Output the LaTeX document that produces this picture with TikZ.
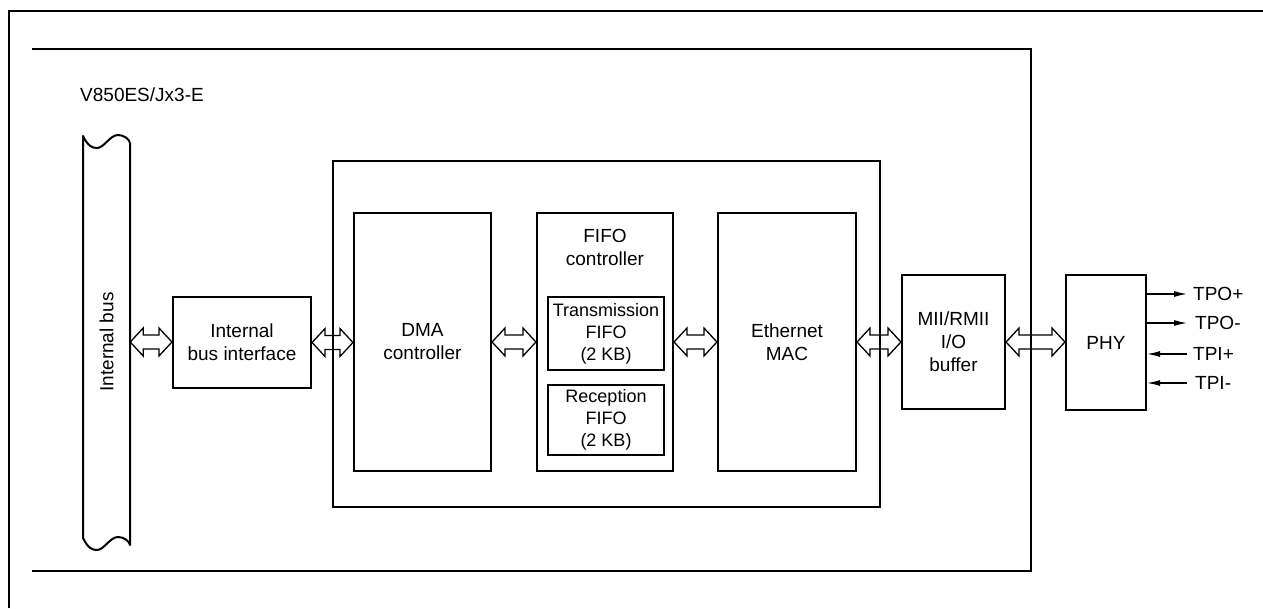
\documentclass[tikz,border=0pt]{standalone}
\usepackage{fontspec}
\setmainfont{Liberation Sans}
\usetikzlibrary{calc,arrows.meta}
\tikzset{
  box/.style={draw, line width=2.1pt, inner sep=0pt, align=center},
  subbox/.style={draw, line width=1.8pt, inner sep=0pt, align=center, font=\fontsize{18}{22}\selectfont},
  harrow/.style={draw, line width=1.3pt, line join=miter},
  sig/.style={line width=1.2pt, -{Latex[length=13pt,width=6pt]}},
  lbl/.style={inner sep=0pt, align=center},
  frame/.style={line width=2.5pt}
}
\newcommand\hollowarrow[2]{%
  \draw[harrow] let \p1=(#1), \p2=(#2) in
    (\x1,\y1) -- (\x1+13pt,\y1+14pt) -- (\x1+13pt,\y1+7pt) -- (\x2-13pt,\y1+7pt)
    -- (\x2-13pt,\y1+14pt) -- (\x2,\y1) -- (\x2-13pt,\y1-14pt) -- (\x2-13pt,\y1-7pt)
    -- (\x1+13pt,\y1-7pt) -- (\x1+13pt,\y1-14pt) -- cycle;}
\begin{document}
\begin{tikzpicture}[x=1pt,y=-1pt,font=\fontsize{19}{23}\selectfont]
\useasboundingbox (0,0) rectangle (1263,608);
% outer frame (right and bottom edges off the page)
\draw[line width=2.2pt] (9,608) -- (9,11) -- (1263,11);
% chip frame
\draw[frame] (32,49) -- (1031,49) -- (1031,571) -- (32,571);
\node[lbl, anchor=base west] (chip) at (80,101) {V850ES/Jx3-E};
% internal bus
\node[lbl, minimum width=47pt, minimum height=409pt] (bus) at (106.5,342) {};
\node[lbl, rotate=90] (buslbl) at (bus.center) {Internal bus};
\draw[line width=2pt, line join=round]
  (83,136) .. controls (88,146) and (92,148) .. (97,148)
  .. controls (104,148) and (110,135) .. (118,135)
  .. controls (124,135) and (129,139) .. (130,143)
  -- (130,545)
  .. controls (129,541) and (124,537) .. (118,537)
  .. controls (110,537) and (104,550) .. (97,550)
  .. controls (92,550) and (88,548) .. (83,538) -- cycle;
% boxes
\node[box, minimum width=138pt, minimum height=91pt] (ibi) at (242,342.5) {Internal\\bus interface};
\node[box, minimum width=547pt, minimum height=346pt] (grp) at (606.5,334) {};
\node[box, minimum width=137pt, minimum height=258pt] (dma) at (422.5,342) {DMA\\controller};
\node[box, minimum width=136pt, minimum height=258pt] (fifo) at (605,342) {};
\node[lbl] (fifolbl) at (605,247) {FIFO\\controller};
\node[subbox, minimum width=116pt, minimum height=73pt] (tx) at (606,333.5) {Transmission\\FIFO\\(2 KB)};
\node[subbox, minimum width=116pt, minimum height=70pt] (rx) at (606,420) {Reception\\FIFO\\(2 KB)};
\node[box, minimum width=138pt, minimum height=258pt] (mac) at (787,342) {Ethernet\\MAC};
\node[box, minimum width=103pt, minimum height=134pt] (mii) at (953.5,342) {MII/RMII\\I/O\\buffer};
\node[box, minimum width=80pt, minimum height=135pt] (phy) at (1106,342.5) {PHY};
% hollow double arrows
\hollowarrow{bus.east}{ibi.west}
\hollowarrow{ibi.east}{dma.west}
\hollowarrow{dma.east}{fifo.west}
\hollowarrow{fifo.east}{mac.west}
\hollowarrow{mac.east}{mii.west}
\hollowarrow{mii.east}{phy.west}
% PHY signals
\coordinate (o1) at (1187,294);
\coordinate (o2) at (1187,323);
\coordinate (i1) at (1187,354);
\coordinate (i2) at (1187,383);
\draw[sig] (phy.east |- o1) -- (o1);
\draw[sig] (phy.east |- o2) -- (o2);
\draw[sig] (i1) -- (phy.east |- i1);
\draw[sig] (i2) -- (phy.east |- i2);
\node[lbl, anchor=west] (to1) at (1193,294) {TPO+};
\node[lbl, anchor=west] (to2) at (1195,323) {TPO-};
\node[lbl, anchor=west] (ti1) at (1193,354) {TPI+};
\node[lbl, anchor=west] (ti2) at (1195,383) {TPI-};
\end{tikzpicture}
\end{document}
